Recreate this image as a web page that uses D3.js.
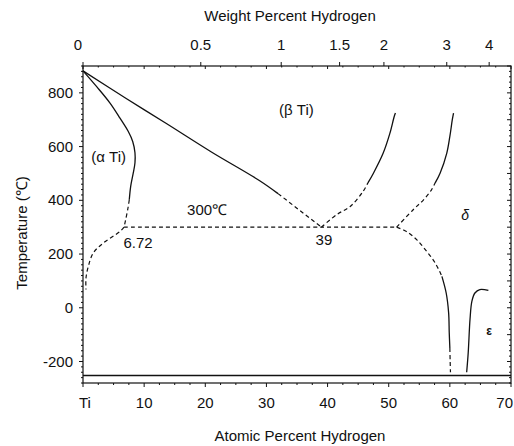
<!DOCTYPE html>
<html>
<head>
<meta charset="utf-8">
<script src="https://cdn.jsdelivr.net/npm/d3@7"></script>
<style>
  html, body { margin: 0; padding: 0; background: #fff; }
  svg { display: block; font-family: "Liberation Sans", Arial, Helvetica, sans-serif; }
  .ax { stroke: #111; stroke-width: 1.2; fill: none; }
  .tk { stroke: #111; stroke-width: 1; }
  .solid { fill: none; stroke: #111; stroke-width: 1.3; }
  .dash { fill: none; stroke: #111; stroke-width: 1.2; stroke-dasharray: 4 3; }
  text { fill: #111; }
</style>
</head>
<body>
<svg id="chart" width="514" height="446"></svg>
<script>
// Ti–H phase diagram: composition in atomic percent H, temperature in °C

// Axis ticks
const atomicTicks = [0, 10, 20, 30, 40, 50, 60, 70];
const weightTicks = [0, 0.5, 1, 1.5, 2, 3, 4];
const tempTicks = [-200, 0, 200, 400, 600, 800];

// Phase boundaries as [at.% H, °C]
const betaTransusSolid = [[0, 882], [7, 780], [13.7, 685], [21, 580], [28.9, 473], [31.9, 425]];
const betaTransusDashed = [[31.9, 425], [39, 300]];

const alphaSolvusSolid = [[0, 882], [2.24, 823], [4.42, 762], [6.05, 706], [7.41, 656],
  [8.13, 619], [8.5, 577], [8.5, 540], [8.23, 503], [7.8, 452], [7.57, 402]];
const alphaSolvusDashed = [[7.57, 402], [7.31, 365], [6.72, 300]];

const alphaLowDashed = [[6.72, 300], [6.05, 284], [3.32, 241], [1.68, 204], [0.87, 154], [0.49, 111], [0.49, 68]];

const eutectoidDashed = [[6.72, 300], [39, 300], [51.3, 300]];

const betaDeltaDashed = [[39, 300], [41.5, 347], [43.7, 377], [45.8, 433], [46.6, 465]];
const betaDeltaSolid = [[46.6, 465], [47.5, 501], [49.1, 576], [50.2, 650], [50.9, 712], [51.1, 725]];

const deltaBetaDashed = [[51.3, 300], [54, 365], [55.7, 402], [57, 439], [57.6, 465]];
const deltaBetaSolid = [[57.6, 465], [58.4, 501], [59.5, 576], [60, 638], [60.4, 700], [60.6, 725]];

const deltaLowDashedTop = [[51.3, 300], [52.9, 284], [54.6, 253], [56.2, 210], [57.6, 167], [58.7, 117]];
const deltaLowSolid = [[58.7, 117], [59.4, 55], [59.8, -19], [59.9, -93], [60, -150]];
const deltaLowDashedBottom = [[60, -150], [60.05, -200], [60.1, -240]];

const epsilonSolid = [[62.75, -240], [63, -168], [63.3, -42], [63.6, 24], [64.1, 55], [64.9, 68], [66.3, 65]];

const baseLine = [[0, -252], [70, -252]];

// Phase-field and point labels: [text, at.% H, °C]
const fieldLabels = [
  ["(\u03B1 Ti)", 4.2, 543],
  ["(\u03B2 Ti)", 34.9, 718],
  ["300\u2103", 20.3, 346],
  ["6.72", 9.0, 224],
  ["39", 39.4, 235]
];

// weight % H -> atomic % H (Ti = 47.867, H = 1.008)
const wtToAt = w => 100 * (w / 1.008) / (w / 1.008 + (100 - w) / 47.867);

const svg = d3.select("#chart");
const L = 83, R = 511, T = 66, B = 383;

const x = d3.scaleLinear().domain([0, 70]).range([L, R]);
const y = d3.scaleLinear().domain([-280, 900]).range([B, T]);

// Frame
svg.append("rect").attr("class", "ax")
  .attr("x", L).attr("y", T).attr("width", R - L).attr("height", B - T);

// Left axis: majors every 200, minors every 20, outward
const left = svg.append("g");
d3.range(-280, 901, 20).forEach(v => {
  const major = v % 200 === 0;
  left.append("line").attr("class", "tk")
    .attr("x1", L).attr("x2", L - (major ? 4 : 2))
    .attr("y1", y(v)).attr("y2", y(v));
});
left.selectAll("text").data(tempTicks).join("text")
  .attr("x", L - 10).attr("y", d => y(d) + 5)
  .attr("text-anchor", "end").attr("font-size", 15)
  .text(d => d);

// Right axis: inward ticks
d3.range(-280, 901, 20).forEach(v => {
  const major = v % 100 === 0;
  svg.append("line").attr("class", "tk")
    .attr("x1", R).attr("x2", R - (major ? 4 : 2))
    .attr("y1", y(v)).attr("y2", y(v));
});

// Bottom axis
d3.range(0, 70.1, 2.5).forEach(v => {
  const major = v % 10 === 0;
  svg.append("line").attr("class", "tk")
    .attr("x1", x(v)).attr("x2", x(v))
    .attr("y1", B).attr("y2", B + (major ? 4 : 2));
});
svg.append("g").selectAll("text").data(atomicTicks).join("text")
  .attr("x", d => d === 0 ? x(d) + 2 : (d === 70 ? 513 : x(d)))
  .attr("y", B + 25)
  .attr("text-anchor", d => d === 70 ? "end" : "middle").attr("font-size", 15)
  .text(d => d === 0 ? "Ti" : d);

// Top axis: atomic-percent ticks inward, weight-percent ticks outward
d3.range(0, 70.1, 2.5).forEach(v => {
  const major = v % 10 === 0;
  svg.append("line").attr("class", "tk")
    .attr("x1", x(v)).attr("x2", x(v))
    .attr("y1", T).attr("y2", T + (major ? 3 : 1.5));
});
weightTicks.forEach(w => {
  svg.append("line").attr("class", "tk")
    .attr("x1", x(wtToAt(w))).attr("x2", x(wtToAt(w)))
    .attr("y1", T).attr("y2", T - 4);
});
svg.append("g").selectAll("text").data(weightTicks).join("text")
  .attr("x", d => x(wtToAt(d)) + (d === 0 ? -5 : 0)).attr("y", T - 16)
  .attr("text-anchor", "middle").attr("font-size", 15)
  .text(d => d);

// Axis titles
svg.append("text").attr("x", 290).attr("y", 21)
  .attr("text-anchor", "middle").attr("font-size", 15).text("Weight Percent Hydrogen");
svg.append("text").attr("x", 300).attr("y", 441)
  .attr("text-anchor", "middle").attr("font-size", 15).text("Atomic Percent Hydrogen");
svg.append("text").attr("transform", "translate(27,233) rotate(-90)")
  .attr("text-anchor", "middle").attr("font-size", 15).text("Temperature (\u2103)");

// Phase boundaries
const line = d3.line().x(d => x(d[0])).y(d => y(d[1])).curve(d3.curveCatmullRom.alpha(0.5));
const plot = svg.append("g");
[betaTransusSolid, alphaSolvusSolid, betaDeltaSolid, deltaBetaSolid, deltaLowSolid, epsilonSolid]
  .forEach(s => plot.append("path").attr("class", "solid").attr("d", line(s)));
[betaTransusDashed, alphaSolvusDashed, alphaLowDashed, eutectoidDashed, betaDeltaDashed,
  deltaBetaDashed, deltaLowDashedTop, deltaLowDashedBottom]
  .forEach(s => plot.append("path").attr("class", "dash").attr("d", line(s)));
plot.append("path").attr("class", "solid").attr("d", d3.line().x(d => x(d[0])).y(d => y(d[1]))(baseLine));

// Field labels
plot.selectAll("text.lbl").data(fieldLabels).join("text").attr("class", "lbl")
  .attr("x", d => x(d[1])).attr("y", d => y(d[2]))
  .attr("text-anchor", "middle").attr("font-size", 15)
  .text(d => d[0]);
plot.append("text").attr("x", x(62.5)).attr("y", y(328))
  .attr("text-anchor", "middle").attr("font-size", 14).attr("font-style", "italic").text("\u03B4");
plot.append("text").attr("x", x(66.4)).attr("y", y(-100))
  .attr("text-anchor", "middle").attr("font-size", 12).attr("font-weight", "bold").text("\u03B5");
</script>
</body>
</html>
